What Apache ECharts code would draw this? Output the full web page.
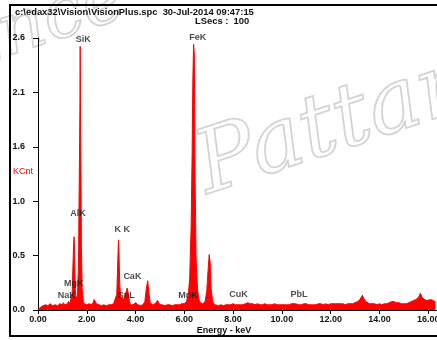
<!DOCTYPE html>
<html>
<head>
<meta charset="utf-8">
<script src="https://cdn.jsdelivr.net/npm/echarts@6/dist/echarts.min.js"></script>
<style>
html,body{margin:0;padding:0;background:#fff;overflow:hidden;width:437px;height:340px;}
#c{width:540px;height:340px;}
</style>
</head>
<body>
<div id="c"></div>
<script>
// ---- Spectrum data (energy in keV, counts in KCnt) ----
const energyKeV = [
  // low energy background
  0, 0.08, 0.12, 0.2, 0.3, 0.4, 0.5, 0.6, 0.7, 0.8, 0.9, 1.0, 1.04, 1.1, 1.2, 1.25, 1.3, 1.36,
  // Al / Si peaks
  1.40, 1.43, 1.46, 1.48, 1.50, 1.53, 1.57, 1.62, 1.66, 1.69, 1.71, 1.72, 1.73, 1.74, 1.76, 1.78, 1.81, 1.86,
  // background, S/Pb
  1.9, 2.0, 2.1, 2.2, 2.26, 2.30, 2.34, 2.4, 2.5, 2.6, 2.7, 2.8, 2.9, 3.0, 3.1, 3.18,
  // K, Sn, Ca
  3.23, 3.27, 3.30, 3.32, 3.35, 3.40, 3.45, 3.50, 3.56, 3.62, 3.66, 3.70, 3.75, 3.8,
  // Ti region
  3.9, 4.0, 4.04, 4.1, 4.2, 4.3, 4.38, 4.44, 4.50, 4.54, 4.60, 4.7, 4.8, 4.9, 4.95, 5.0, 5.1, 5.2, 5.3, 5.4, 5.5, 5.6, 5.7, 5.8, 5.9, 6.0,
  // Fe K alpha / beta
  6.08, 6.16, 6.22, 6.28, 6.32, 6.35, 6.38, 6.41, 6.44, 6.48, 6.54, 6.60, 6.66, 6.75, 6.85, 6.92, 6.98, 7.02, 7.06, 7.10, 7.16, 7.25,
  // high energy background
  7.4, 7.5, 7.6, 7.7, 7.8, 7.9, 8.0, 8.1, 8.2, 8.3, 8.4, 8.5, 8.6, 8.65, 8.7, 8.8, 8.9,
  9.0, 9.1, 9.2, 9.3, 9.4, 9.5, 9.6, 9.7, 9.8, 9.9, 10.0, 10.1, 10.2, 10.3, 10.4, 10.55, 10.7, 10.8, 10.9,
  11.0, 11.1, 11.2, 11.3, 11.4, 11.5, 11.6, 11.7, 11.8, 11.9, 12.0, 12.1, 12.2, 12.3, 12.4, 12.5, 12.6, 12.7, 12.8, 12.9,
  13.0, 13.1, 13.2, 13.3, 13.36, 13.45, 13.5, 13.6, 13.7, 13.8, 13.9, 14.0, 14.1, 14.2, 14.3, 14.4, 14.5, 14.6, 14.7, 14.8, 14.9,
  15.0, 15.1, 15.2, 15.3, 15.4, 15.5, 15.6, 15.68, 15.75, 15.85, 15.95, 16.1, 16.3
];
const countsKCnt = [
  0, 0, 0.03, 0.04, 0.05, 0.04, 0.06, 0.04, 0.05, 0.04, 0.06, 0.05, 0.07, 0.05, 0.06, 0.08, 0.06, 0.07,
  0.15, 0.40, 0.62, 0.70, 0.55, 0.20, 0.10, 0.14, 0.45, 1.20, 1.70, 1.98, 2.52, 2.00, 1.40, 0.60, 0.20, 0.08,
  0.06, 0.05, 0.06, 0.05, 0.07, 0.10, 0.09, 0.06, 0.05, 0.04, 0.05, 0.04, 0.05, 0.05, 0.06, 0.07,
  0.15, 0.45, 0.67, 0.55, 0.25, 0.10, 0.12, 0.10, 0.13, 0.18, 0.21, 0.16, 0.08, 0.05,
  0.05, 0.07, 0.06, 0.05, 0.04, 0.05, 0.08, 0.20, 0.28, 0.18, 0.07, 0.05, 0.06, 0.09, 0.07, 0.05, 0.05, 0.04, 0.05, 0.05, 0.04, 0.05, 0.05, 0.05, 0.06, 0.06,
  0.08, 0.14, 0.30, 0.80, 1.50, 2.20, 2.54, 2.45, 1.30, 0.50, 0.20, 0.10, 0.07, 0.06, 0.08, 0.18, 0.40, 0.53, 0.45, 0.20, 0.08, 0.05,
  0.04, 0.05, 0.04, 0.05, 0.05, 0.05, 0.06, 0.05, 0.05, 0.05, 0.05, 0.06, 0.07, 0.08, 0.06, 0.06, 0.05,
  0.06, 0.05, 0.05, 0.06, 0.05, 0.05, 0.05, 0.06, 0.05, 0.05, 0.05, 0.05, 0.05, 0.05, 0.06, 0.06, 0.05, 0.05, 0.06,
  0.06, 0.05, 0.05, 0.05, 0.05, 0.06, 0.06, 0.05, 0.06, 0.05, 0.06, 0.06, 0.06, 0.06, 0.06, 0.06, 0.05, 0.06, 0.06, 0.06,
  0.07, 0.08, 0.10, 0.14, 0.11, 0.08, 0.07, 0.06, 0.06, 0.06, 0.05, 0.06, 0.05, 0.06, 0.06, 0.07, 0.08, 0.08, 0.07, 0.07, 0.06,
  0.06, 0.06, 0.07, 0.08, 0.09, 0.10, 0.12, 0.16, 0.12, 0.10, 0.09, 0.10, 0.08
];

// ---- Element line labels (anchored in keV / KCnt) ----
const elementNames     = ['SiK', 'FeK', 'AlK', 'K K', 'CaK', 'MgK', 'NaK', 'SnL', 'MnK', 'CuK', 'PbL'];
const elementLabelKeV  = [1.86, 6.55, 1.64, 3.45, 3.87, 1.47, 1.18, 3.62, 6.15, 8.22, 10.70];
const elementLabelKCnt = [2.59, 2.60, 0.92, 0.77, 0.32, 0.25, 0.14, 0.14, 0.14, 0.15, 0.15];

// ---- Axis ticks ----
const yTickLabels = ['0.0', '0.5', '1.0', '1.6', '2.1', '2.6'];
const yMax = 2.6;
const yStep = 0.52;
const xMax = 20;
const xStep = 2;

// ---- Header texts ----
const headerFile = 'c:\\edax32\\Vision\\VisionPlus.spc  30-Jul-2014 09:47:15';
const headerLSecs = 'LSecs :  100';
const yAxisTitle = 'KCnt';
const xAxisTitle = 'Energy - keV';

const FONT = '"Liberation Sans", Arial, sans-serif';

const spectrum = energyKeV.map((e, i) => [e, countsKCnt[i]]);
const labelsData = elementNames.map((n, i) => ({ value: [elementLabelKeV[i], elementLabelKCnt[i]], name: n }));

const chart = echarts.init(document.getElementById('c'), null, { renderer: 'canvas' });
chart.setOption({
  animation: false,
  backgroundColor: '#ffffff',
  grid: { left: 38, top: 38, width: 500, height: 272, containLabel: false },
  xAxis: {
    type: 'value', min: 0, max: xMax, interval: xStep,
    axisLine: { show: true, onZero: false, lineStyle: { color: '#000', width: 1 } },
    axisTick: { show: true, length: 4, lineStyle: { color: '#000' } },
    axisLabel: { formatter: v => v.toFixed(2), color: '#111', fontWeight: 'bold', fontSize: 9, fontFamily: FONT, margin: 5 },
    splitLine: { show: false }
  },
  yAxis: {
    type: 'value', min: 0, max: yMax, interval: yStep, offset: 2,
    axisLine: { show: true, lineStyle: { color: '#000', width: 1 } },
    axisTick: { show: true, length: 5, lineStyle: { color: '#000' } },
    axisLabel: {
      formatter: v => yTickLabels[Math.round(v / yStep)],
      color: '#111', fontWeight: 'bold', fontSize: 9, fontFamily: FONT, margin: 11
    },
    splitLine: { show: false }
  },
  graphic: [
    { type: 'text', z: 0, x: 214, y: 214, rotation: 0.32,
      style: { text: 'Pattan', font: 'italic 88px "DejaVu Serif"', fill: 'rgba(255,255,255,0)', stroke: '#d4d4d4', lineWidth: 1.8, textVerticalAlign: 'bottom' } },
    { type: 'text', z: 0, x: -10, y: 80, rotation: 0.32,
      style: { text: 'ince', font: 'italic 72px "DejaVu Serif"', fill: 'rgba(255,255,255,0)', stroke: '#d4d4d4', lineWidth: 1.8, textVerticalAlign: 'bottom' } },
    { type: 'rect', z: 10, shape: { x: 10, y: 5, width: 560, height: 331 },
      style: { fill: 'none', stroke: '#000', lineWidth: 2 } },
    { type: 'text', z: 10, x: 15, y: 12,
      style: { text: headerFile, font: 'bold 9.4px ' + FONT, fill: '#111', textVerticalAlign: 'middle' } },
    { type: 'text', z: 10, x: 195, y: 21,
      style: { text: headerLSecs, font: 'bold 9.4px ' + FONT, fill: '#111', textVerticalAlign: 'middle' } },
    { type: 'text', z: 10, x: 13, y: 172,
      style: { text: yAxisTitle, font: '9px ' + FONT, fill: '#ff0000', textVerticalAlign: 'middle' } },
    { type: 'text', z: 10, x: 224, y: 331,
      style: { text: xAxisTitle, font: 'bold 9px ' + FONT, fill: '#111', textAlign: 'center', textVerticalAlign: 'middle' } }
  ],
  series: [
    {
      type: 'line', data: spectrum, showSymbol: false, symbol: 'none', smooth: false,
      lineStyle: { color: '#ff0000', width: 1 },
      areaStyle: { color: '#ff0000', opacity: 1 },
      z: 3
    },
    {
      type: 'scatter', data: labelsData, symbolSize: 0, z: 5, silent: true,
      label: {
        show: true, position: 'inside', formatter: p => p.name,
        color: '#1a1a1a', fontWeight: 'bold', fontSize: 9, fontFamily: FONT
      }
    }
  ]
});
</script>
</body>
</html>
